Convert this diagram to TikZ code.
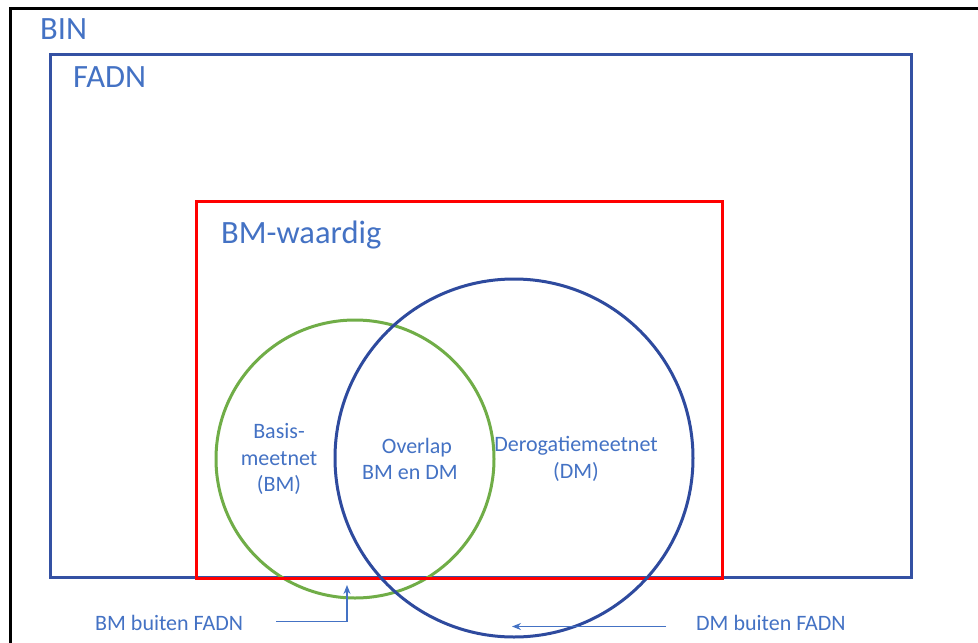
\documentclass[tikz,border=0pt]{standalone}
\usepackage{fontspec}
\setmainfont{Carlito}
\usetikzlibrary{arrows.meta}
\definecolor{txtblue}{HTML}{4472C4}
\definecolor{boxblue}{HTML}{3451A3}
\definecolor{circblue}{HTML}{2E4A9E}
\definecolor{grn}{HTML}{70AD47}
\tikzset{
  big/.style={text=txtblue,font=\fontsize{32.5}{38}\selectfont,inner sep=0pt,anchor=base west},
  small/.style={text=txtblue,font=\fontsize{22}{26.5}\selectfont,inner sep=0pt,align=center},
  frame/.style={rectangle,draw,line width=3pt,inner sep=0pt},
  ring/.style={circle,draw,line width=3pt,inner sep=0pt},
  pointer/.style={draw=txtblue,line width=1.2pt,-{Stealth[length=9pt,width=7pt]}}
}
\begin{document}
\begin{tikzpicture}[x=1pt,y=-1pt]
\useasboundingbox (0,0) rectangle (978,643);
\clip (0,0) rectangle (978,643);
\fill[white] (0,0) rectangle (978,643);
% outer BIN frame (extends beyond the picture)
\node[frame,draw=black,minimum width=990pt,minimum height=660pt] (bin) at (505,338) {};
\node[big] (binlbl) at (40,39) {BIN};
% FADN
\node[frame,draw=boxblue,minimum width=861pt,minimum height=523pt] (fadn) at (480.5,315.5) {};
\node[big] (fadnlbl) at (73,87) {FADN};
% green circle
\node[ring,draw=grn,minimum size=278pt] (bm) at (355,459) {};
% red BM-waardig
\node[frame,draw=red,minimum width=526pt,minimum height=377pt] (bmw) at (459,389.5) {};
\node[big] (bmwlbl) at (221,243) {BM-waardig};
% blue circle
\node[ring,draw=circblue,minimum size=358pt] (dm) at (514,458) {};
% labels inside
\node[small] (basis) at (279,459) {Basis-\\meetnet\\(BM)};
\node[small] (overlap) at (410,459) {\hspace*{14pt}Overlap\\BM en DM};
\node[small] (derog) at (576,459) {Derogatiemeetnet\\(DM)};
% bottom labels with arrows
\node[small,anchor=west] (bmout) at (95,623) {BM buiten FADN};
\node[small,anchor=west] (dmout) at (696,623) {DM buiten FADN};
\coordinate (bmstart) at (276,621.5);
\coordinate (bmtip) at (347,585);
\coordinate (dmstart) at (666,626.5);
\coordinate (dmtip) at (512,626.5);
\draw[pointer] (bmstart) -| (bmtip);
\draw[pointer] (dmstart) -- (dmtip);
\end{tikzpicture}
\end{document}
